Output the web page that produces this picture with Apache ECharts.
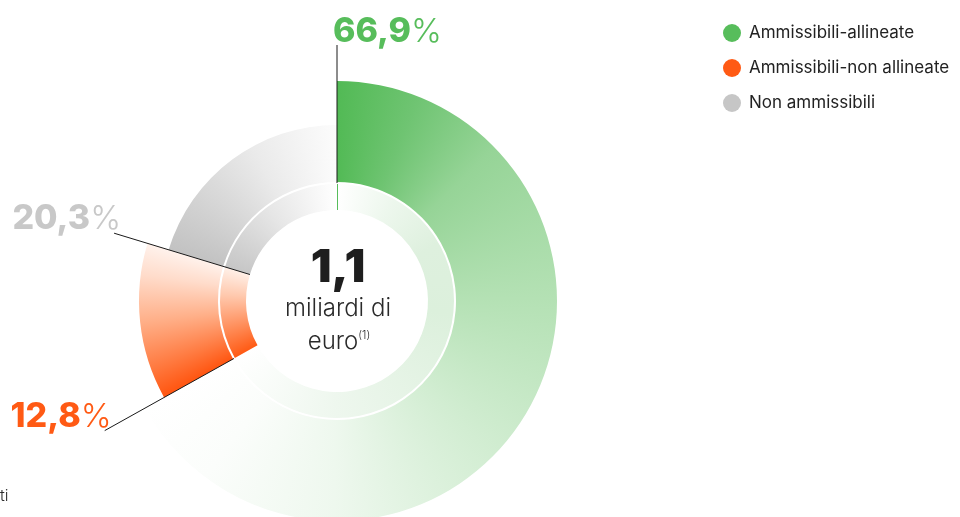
<!DOCTYPE html>
<html>
<head>
<meta charset="utf-8">
<script src="https://cdn.jsdelivr.net/npm/echarts@6/dist/echarts.min.js"></script>
<style>
  html, body { margin: 0; padding: 0; background: #fff; }
  #chart { width: 960px; height: 517px; }
</style>
</head>
<body>
<div id="chart"></div>
<script>
// dati
const categories = ["Ammissibili-allineate", "Ammissibili-non allineate", "Non ammissibili"];
const shares = [66.9, 12.8, 20.3];
const shareLabels = ["66,9", "12,8", "20,3"];
const totalValue = "1,1";
const totalUnit = ["miliardi di", "euro"];
const footnoteRef = "(1)";

// stile
const baseColors = ["#57BD5B", "#FF5A14", "#C6C6C6"];
const labelColors = ["#57BD5B", "#FF5A14", "#C8C8C8"];
const cx = 337, cy = 301;
const W = 960, H = 517;
const innerR = [91, 117];
const outerStart = 119;
const outerEnd = [220, 198, 176];
const fontFamily = "Inter, 'Noto Sans', sans-serif";

// sfumature lungo l'arco (t = posizione relativa nella fetta)
const outerStops = [
  [[0, "#52BA55"], [0.09, "#6FC472"], [0.19, "#96D497"], [0.37, "#B4E1B4"], [0.56, "#D2EDD2"], [0.75, "#EEF8EE"], [0.9, "#FBFDFB"], [1, "#FFFFFF"]],
  [[0, "#FF5510"], [0.2, "#FF7A40"], [0.5, "#FFAF88"], [0.8, "#FFDCCB"], [1, "#FFF2EC"]],
  [[0, "#C2C2C2"], [0.3, "#D6D6D6"], [0.6, "#EAEAEA"], [1, "#FCFCFC"]],
];
const innerStops = [
  [[0, "#FFFFFF"], [0.12, "#EDF7ED"], [0.25, "#DEF0DE"], [0.4, "#DCF0DC"], [0.75, "#EEF7EE"], [1, "#FFFFFF"]],
  [[0, "#FF5A14"], [0.3, "#FF8A55"], [0.7, "#FFC9AE"], [1, "#FFF0E8"]],
  [[0, "#C6C6C6"], [0.5, "#E6E6E6"], [1, "#FFFFFF"]],
];

const total = shares.reduce((a, b) => a + b, 0);
const startAngles = [];
let acc = 0;
shares.forEach((v) => { startAngles.push(acc / total * 360); acc += v; });

function conicFill(i, stops) {
  var from = startAngles[i] / 360;
  var span = shares[i] / total;
  var c = document.createElement("canvas");
  c.width = W; c.height = H;
  var ctx = c.getContext("2d");
  if (!ctx.createConicGradient) {
    return stops[Math.floor(stops.length / 2)][1];
  }
  var g = ctx.createConicGradient(-Math.PI / 2, cx, cy);
  stops.forEach((s) => g.addColorStop(Math.min(1, from + s[0] * span), s[1]));
  ctx.fillStyle = g;
  ctx.fillRect(0, 0, W, H);
  return { image: c, repeat: "no-repeat" };
}

const outerFill = outerStops.map((s, i) => conicFill(i, s));
const innerFill = innerStops.map((s, i) => conicFill(i, s));

function pt(deg, r) {
  var a = deg * Math.PI / 180;
  return [cx + r * Math.sin(a), cy - r * Math.cos(a)];
}

function pieSeries(radius, fills, active) {
  return {
    type: "pie",
    center: [cx, cy],
    radius: radius,
    startAngle: 90,
    clockwise: true,
    silent: true,
    animation: false,
    avoidLabelOverlap: false,
    label: { show: false },
    labelLine: { show: false },
    emphasis: { disabled: true },
    itemStyle: { borderWidth: 0 },
    data: categories.map((name, i) => ({
      name: name,
      value: shares[i],
      itemStyle: {
        color: active == null || active === i ? fills[i] : "rgba(0,0,0,0)",
      },
    })),
  };
}

// linee guida delle etichette
const guideFrom = [118, 118, 91];
const guideTo = [256, 266, 233];
const graphics = [];
categories.forEach((name, i) => {
  var a = pt(startAngles[i], guideFrom[i]);
  var b = pt(startAngles[i], guideTo[i]);
  graphics.push({
    type: "line",
    z: 10,
    shape: { x1: a[0], y1: a[1], x2: b[0], y2: b[1] },
    style: { stroke: "#1a1a1a", lineWidth: 1 },
  });
  var left = i === 0;
  graphics.push({
    type: "text",
    z: 10,
    x: left ? b[0] - 4 : b[0] + 7,
    y: left ? b[1] + 4 : b[1] + 3,
    style: {
      text: "{n|" + shareLabels[i] + "}{p|%}",
      textAlign: left ? "left" : "right",
      textVerticalAlign: "bottom",
      rich: {
        n: { fontFamily: fontFamily, fontSize: 34, fontWeight: 800, fill: labelColors[i], color: labelColors[i] },
        p: { fontFamily: fontFamily, fontSize: 33, fontWeight: 300, fill: labelColors[i], color: labelColors[i] },
      },
    },
  });
});

// piccolo tratto verde nell'anello interno
var g1 = pt(0, innerR[0]), g2 = pt(0, innerR[1]);
graphics.push({
  type: "line",
  z: 10,
  shape: { x1: g1[0] + 0.5, y1: g1[1], x2: g2[0] + 0.5, y2: g2[1] },
  style: { stroke: "#57BD5B", lineWidth: 1 },
});

// testo centrale
graphics.push({
  type: "text", z: 10, x: cx + 1, y: 268,
  style: { text: totalValue, textAlign: "center", textVerticalAlign: "middle",
    font: "900 46px " + fontFamily, fill: "#1e1e1e" },
});
graphics.push({
  type: "text", z: 10, x: cx + 1, y: 309,
  style: { text: totalUnit[0], textAlign: "center", textVerticalAlign: "middle",
    font: "300 24px " + fontFamily, fill: "#2a2a2a" },
});
graphics.push({
  type: "text", z: 10, x: cx + 2, y: 342,
  style: {
    text: "{a|" + totalUnit[1] + "}{s|" + footnoteRef + "}",
    textAlign: "center", textVerticalAlign: "middle",
    rich: {
      a: { fontFamily: fontFamily, fontSize: 24, fontWeight: 300, color: "#2a2a2a", fill: "#2a2a2a" },
      s: { fontFamily: fontFamily, fontSize: 11, fontWeight: 300, color: "#2a2a2a", fill: "#2a2a2a", padding: [0, 0, 12, 0] },
    },
  },
});
// nota a piè di pagina troncata
graphics.push({
  type: "text", z: 10, x: 0, y: 496,
  style: { text: "ti", textVerticalAlign: "middle", font: "300 16px " + fontFamily, fill: "#2a2a2a" },
});

var mychart = echarts.init(document.getElementById("chart"));
var option = {
  backgroundColor: "#fff",
  animation: false,
  legend: {
    orient: "vertical",
    left: 718,
    top: 19,
    itemWidth: 18,
    itemHeight: 18,
    itemGap: 17,
    icon: "circle",
    selectedMode: false,
    textStyle: {
      fontFamily: fontFamily,
      fontSize: 17,
      color: "#222",
      padding: [0, 0, 0, 3],
    },
    data: categories.map((name, i) => ({ name: name, itemStyle: { color: baseColors[i] } })),
  },
  series: [
    pieSeries(innerR, innerFill, null),
    pieSeries([outerStart, outerEnd[0]], outerFill, 0),
    pieSeries([outerStart, outerEnd[1]], outerFill, 1),
    pieSeries([outerStart, outerEnd[2]], outerFill, 2),
  ],
  graphic: graphics,
};
mychart.setOption(option);
mychart.resize();
</script>
</body>
</html>
